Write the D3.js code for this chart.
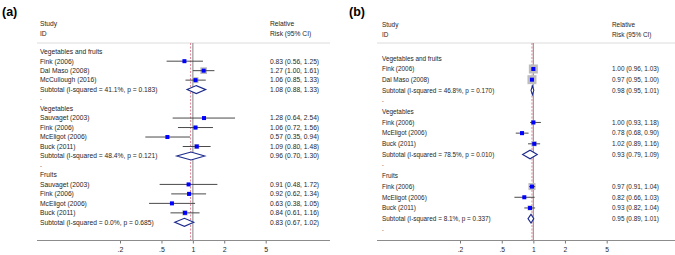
<!DOCTYPE html>
<html>
<head>
<meta charset="utf-8">
<script src="https://cdn.jsdelivr.net/npm/d3@7"></script>
<style>
  html, body { margin: 0; padding: 0; background: #fff; }
  svg { display: block; font-family: "Liberation Sans", Arial, sans-serif; }
</style>
</head>
<body>
<div id="chart"></div>
<script>
// --- data, panel (a): relative risk per study ---
var groupsA = ['Vegetables and fruits', 'Vegetables', 'Fruits'];
var studiesA = [
    ['Fink (2006)', 'Dal Maso (2008)', 'McCullough (2016)'],
    ['Sauvaget (2003)', 'Fink (2006)', 'McEligot (2006)', 'Buck (2011)'],
    ['Sauvaget (2003)', 'Fink (2006)', 'McEligot (2006)', 'Buck (2011)']
];
var rrA = [[0.83, 1.27, 1.06], [1.28, 1.06, 0.57, 1.09], [0.91, 0.92, 0.63, 0.84]];
var lowA = [[0.56, 1.00, 0.85], [0.64, 0.72, 0.35, 0.80], [0.48, 0.62, 0.38, 0.61]];
var highA = [[1.25, 1.61, 1.33], [2.54, 1.56, 0.94, 1.48], [1.72, 1.34, 1.05, 1.16]];
var weightA = [[8, 50, 40], [4, 18, 10, 28], [8, 18, 10, 30]];
var subA = [
    { i2: '41.1%', p: '0.183', rr: 1.08, lo: 0.88, hi: 1.33 },
    { i2: '48.4%', p: '0.121', rr: 0.96, lo: 0.70, hi: 1.30 },
    { i2: '0.0%', p: '0.685', rr: 0.83, lo: 0.67, hi: 1.02 }
];
var overallA = 0.95;

// --- data, panel (b) ---
var groupsB = ['Vegetables and fruits', 'Vegetables', 'Fruits'];
var studiesB = [
    ['Fink (2006)', 'Dal Maso (2008)'],
    ['Fink (2006)', 'McEligot (2006)', 'Buck (2011)'],
    ['Fink (2006)', 'McEligot (2006)', 'Buck (2011)']
];
var rrB = [[1.00, 0.97], [1.00, 0.78, 1.02], [0.97, 0.82, 0.93]];
var lowB = [[0.96, 0.95], [0.93, 0.68, 0.89], [0.91, 0.66, 0.82]];
var highB = [[1.03, 1.00], [1.18, 0.90, 1.16], [1.04, 1.03, 1.04]];
var weightB = [[90, 90], [18, 18, 28], [55, 10, 28]];
var subB = [
    { i2: '46.8%', p: '0.170', rr: 0.98, lo: 0.95, hi: 1.01 },
    { i2: '78.5%', p: '0.010', rr: 0.93, lo: 0.79, hi: 1.09 },
    { i2: '8.1%', p: '0.337', rr: 0.95, lo: 0.89, hi: 1.01 }
];
var overallB = 0.97;

var tickValues = [0.2, 0.5, 1, 2, 5];
var tickLabels = ['.2', '.5', '1', '2', '5'];

(function() {
    'use strict';

    var width = 675, height = 255;
    var f2 = d3.format('.2f');
    var textColor = '#262626';

    var svg = d3.select('#chart').append('svg')
        .attr('width', width)
        .attr('height', height)
        .attr('viewBox', [0, 0, width, height].join(' '));

    function ciText(rr, lo, hi) {
        return f2(rr) + ' (' + f2(lo) + ', ' + f2(hi) + ')';
    }

    // Flatten groups into display rows
    function buildRows(groups, studies, rr, low, high, weight, subs, trailingDot) {
        var rows = [];
        groups.forEach(function(g, gi) {
            if (gi > 0) rows.push({ type: 'dot' });
            rows.push({ type: 'group', label: g });
            studies[gi].forEach(function(s, si) {
                rows.push({ type: 'study', label: s, rr: rr[gi][si], lo: low[gi][si], hi: high[gi][si], w: weight[gi][si] });
            });
            var sb = subs[gi];
            rows.push({ type: 'sub', label: 'Subtotal  (I-squared = ' + sb.i2 + ', p = ' + sb.p + ')', rr: sb.rr, lo: sb.lo, hi: sb.hi });
        });
        if (trailingDot) rows.push({ type: 'dot' });
        return rows;
    }

    function drawPanel(cfg) {
        var g = svg.append('g').attr('font-size', cfg.fontSize + 'px').attr('fill', textColor);

        var x = d3.scaleLog().domain([0.2, 5]).range(cfg.xRange);
        var box = d3.scaleSqrt().domain([0, 100]).range([0, cfg.maxBox]);
        var rowY = function(i) { return cfg.firstRow + i * cfg.step; };
        var yTop = cfg.ruleY, yBottom = cfg.axisY;

        // panel letter
        svg.append('text')
            .attr('x', cfg.letterX).attr('y', 16)
            .attr('font-size', '12.5px').attr('font-weight', 700)
            .attr('fill', '#000')
            .text(cfg.letter);

        // headers
        g.append('text').attr('x', cfg.textX).attr('y', cfg.headY[0]).attr('dy', '0.35em').text('Study');
        g.append('text').attr('x', cfg.textX).attr('y', cfg.headY[1]).attr('dy', '0.35em').text('ID');
        g.append('text').attr('x', cfg.valX).attr('y', cfg.headY[0]).attr('dy', '0.35em').text('Relative');
        g.append('text').attr('x', cfg.valX).attr('y', cfg.headY[1]).attr('dy', '0.35em').text('Risk (95% CI)');

        g.append('line')
            .attr('x1', cfg.lineX[0]).attr('x2', cfg.lineX[1])
            .attr('y1', cfg.ruleY).attr('y2', cfg.ruleY)
            .attr('stroke', '#dcdcdc').attr('stroke-width', 1);

        // null line at RR = 1
        g.append('line')
            .attr('x1', x(1)).attr('x2', x(1))
            .attr('y1', yTop).attr('y2', yBottom)
            .attr('stroke', '#999').attr('stroke-width', 1.2);

        // overall estimate (dashed)
        g.append('line')
            .attr('x1', x(cfg.overall)).attr('x2', x(cfg.overall))
            .attr('y1', yTop).attr('y2', yBottom)
            .attr('stroke', '#e06a80').attr('stroke-width', 0.8)
            .attr('stroke-dasharray', '2,1.5');

        cfg.rows.forEach(function(r, i) {
            var y = rowY(i);
            if (r.type === 'dot') {
                g.append('text').attr('x', cfg.textX).attr('y', y - 1).attr('dy', '0.35em').text('.');
                return;
            }
            g.append('text').attr('x', cfg.textX).attr('y', y).attr('dy', '0.35em').text(r.label);
            if (r.type === 'group') return;

            g.append('text').attr('x', cfg.valX).attr('y', y).attr('dy', '0.35em').text(ciText(r.rr, r.lo, r.hi));

            if (r.type === 'study') {
                var s = box(r.w);
                g.append('rect')
                    .attr('x', x(r.rr) - s / 2).attr('y', y - s / 2)
                    .attr('width', s).attr('height', s)
                    .attr('fill', '#bdbdbd');
                g.append('line')
                    .attr('x1', x(r.lo)).attr('x2', x(r.hi))
                    .attr('y1', y).attr('y2', y)
                    .attr('stroke', '#4a4a4a').attr('stroke-width', 1);
                g.append('rect')
                    .attr('x', x(r.rr) - 2).attr('y', y - 2)
                    .attr('width', 4).attr('height', 4)
                    .attr('fill', '#0000ff');
            } else {
                var h = cfg.diamondH;
                var pts = [[x(r.lo), y], [x(r.rr), y - h], [x(r.hi), y], [x(r.rr), y + h]];
                g.append('polygon')
                    .attr('points', pts.map(function(p) { return p.join(','); }).join(' '))
                    .attr('fill', '#fff')
                    .attr('stroke', '#1c2a8c').attr('stroke-width', 1.1);
            }
        });

        // axis
        var axis = d3.axisBottom(x)
            .tickValues(tickValues)
            .tickFormat(function(d, i) { return tickLabels[i]; })
            .tickSize(3)
            .tickSizeOuter(0);

        var ax = g.append('g')
            .attr('transform', 'translate(0,' + cfg.axisY + ')')
            .call(axis);
        ax.select('.domain').remove();
        ax.selectAll('.tick line').attr('stroke', '#777');
        ax.selectAll('.tick text')
            .attr('fill', textColor)
            .attr('font-size', (cfg.fontSize + 0.3) + 'px')
            .attr('font-family', null)
            .attr('y', 7);
        g.append('line')
            .attr('x1', cfg.lineX[0]).attr('x2', cfg.lineX[1])
            .attr('y1', cfg.axisY).attr('y2', cfg.axisY)
            .attr('stroke', '#8c8c8c').attr('stroke-width', 1.2);
    }

    drawPanel({
        letter: '(a)', letterX: 2,
        rows: buildRows(groupsA, studiesA, rrA, lowA, highA, weightA, subA, false),
        overall: overallA,
        fontSize: 6.7,
        textX: 40, valX: 270,
        headY: [24, 33.3],
        ruleY: 43, lineX: [37, 330],
        firstRow: 51.7, step: 9.48,
        axisY: 240.5,
        xRange: [120, 265.7],
        maxBox: 9.5, diamondH: 4
    });

    drawPanel({
        letter: '(b)', letterX: 349,
        rows: buildRows(groupsB, studiesB, rrB, lowB, highB, weightB, subB, true),
        overall: overallB,
        fontSize: 6.4,
        textX: 382, valX: 612,
        headY: [25, 35],
        ruleY: 43, lineX: [377, 675],
        firstRow: 58.3, step: 10.69,
        axisY: 240.5,
        xRange: [460, 606.7],
        maxBox: 9.5, diamondH: 4.3
    });
})();
</script>
</body>
</html>
